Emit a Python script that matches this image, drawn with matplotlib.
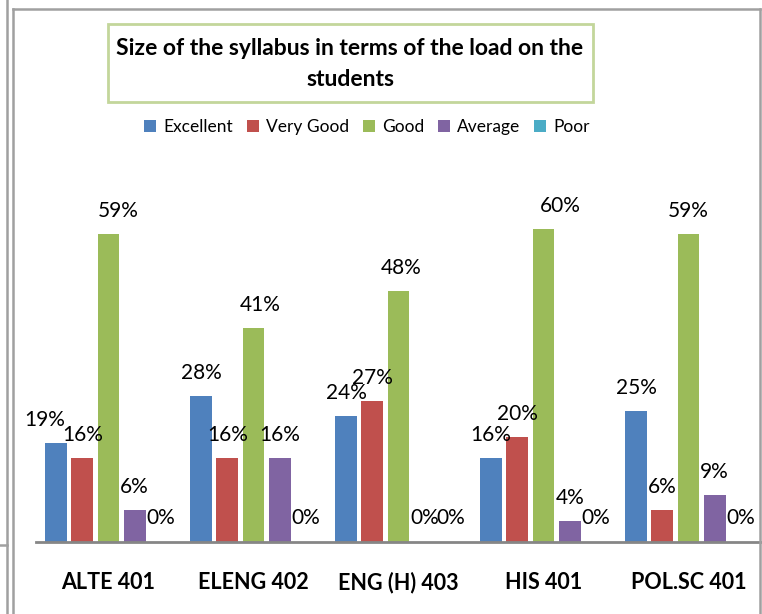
import matplotlib

matplotlib.use("Agg")
import matplotlib.pyplot as plt
import numpy as np
from matplotlib.lines import Line2D
from matplotlib.patches import Rectangle

W, H = 762, 614
FONT = "Lato"

categories = ["ALTE 401", "ELENG 402", "ENG (H) 403", "HIS 401", "POL.SC 401"]
series_names = ["Excellent", "Very Good", "Good", "Average", "Poor"]
excellent = [19, 28, 24, 16, 25]
very_good = [16, 16, 27, 20, 6]
good = [59, 41, 48, 60, 59]
average = [6, 16, 0, 4, 9]
poor = [0, 0, 0, 0, 0]

colors = ["#4f81bd", "#c0504d", "#9bbb59", "#8064a2", "#4bacc6"]

# label nudges in pixels (series index, category index) -> dx
label_dx = {(0, 0): -11, (2, 0): 10, (2, 1): 7, (2, 2): 3, (2, 3): 17}


def px_x(x):
    return x / W


def px_y(y):
    return 1 - y / H


def start() -> None:
    plt.rcParams["font.family"] = [FONT, "DejaVu Sans"]
    fig = plt.figure(figsize=(W / 100, H / 100), dpi=100)

    base, top = 541.5, 541.5 - 0.70 * 521
    ax = fig.add_axes([px_x(36), px_y(base), px_x(761) - px_x(36), (base - top) / H])

    values = [excellent, very_good, good, average, poor]
    x = np.arange(len(categories))
    slot, width = 0.181, 0.149
    for i, (name, vals, col) in enumerate(zip(series_names, values, colors)):
        pos = x + (i - 2) * slot
        ax.bar(pos, np.array(vals) / 100, width, color=col, label=name, linewidth=0)
        for j, v in enumerate(vals):
            ax.annotate(
                f"{v}%",
                (pos[j], v / 100),
                xytext=(label_dx.get((i, j), 0), 17),
                textcoords="offset pixels",
                ha="center",
                va="baseline",
                fontsize=15,
            )

    ax.set_xlim(-0.5, len(categories) - 0.5)
    ax.set_ylim(0, 0.70)
    ax.set_yticks([])
    ax.set_xticks(x)
    ax.set_xticklabels(categories, fontsize=15.5, fontweight="bold")
    ax.tick_params(axis="x", length=0, pad=22)
    for side in ["top", "right", "left"]:
        ax.spines[side].set_visible(False)
    ax.spines["bottom"].set_color("#868686")
    ax.spines["bottom"].set_linewidth(2)

    # title in a green box
    fig.add_artist(
        Rectangle(
            (px_x(108), px_y(102)),
            px_x(593) - px_x(108),
            (102 - 24) / H,
            transform=fig.transFigure,
            fill=False,
            edgecolor="#c3d69b",
            linewidth=2,
        )
    )
    fig.text(
        px_x(350),
        px_y(64),
        "Size of the syllabus in terms of the load on the\nstudents",
        ha="center",
        va="center",
        multialignment="center",
        fontsize=16.5,
        fontweight="bold",
        linespacing=1.55,
    )

    fig.legend(
        loc="center",
        bbox_to_anchor=(px_x(367), px_y(127)),
        ncol=5,
        frameon=False,
        fontsize=12.5,
        handlelength=0.7,
        handleheight=0.7,
        handletextpad=0.4,
        columnspacing=0.8,
        borderpad=0,
    )

    # outer frame lines of the page
    gray = "#a0a0a0"
    for xs, ys in [
        ([13, 13], [9, 614]),
        ([13, 760], [9, 9]),
        ([760, 760], [9, 614]),
        ([7, 7], [0, 614]),
        ([0, 7], [545, 545]),
    ]:
        fig.add_artist(
            Line2D([px_x(v) for v in xs], [px_y(v) for v in ys], color=gray, linewidth=1.8)
        )

    fig.savefig("out.png", dpi=100)


if __name__ == "__main__":
    start()
